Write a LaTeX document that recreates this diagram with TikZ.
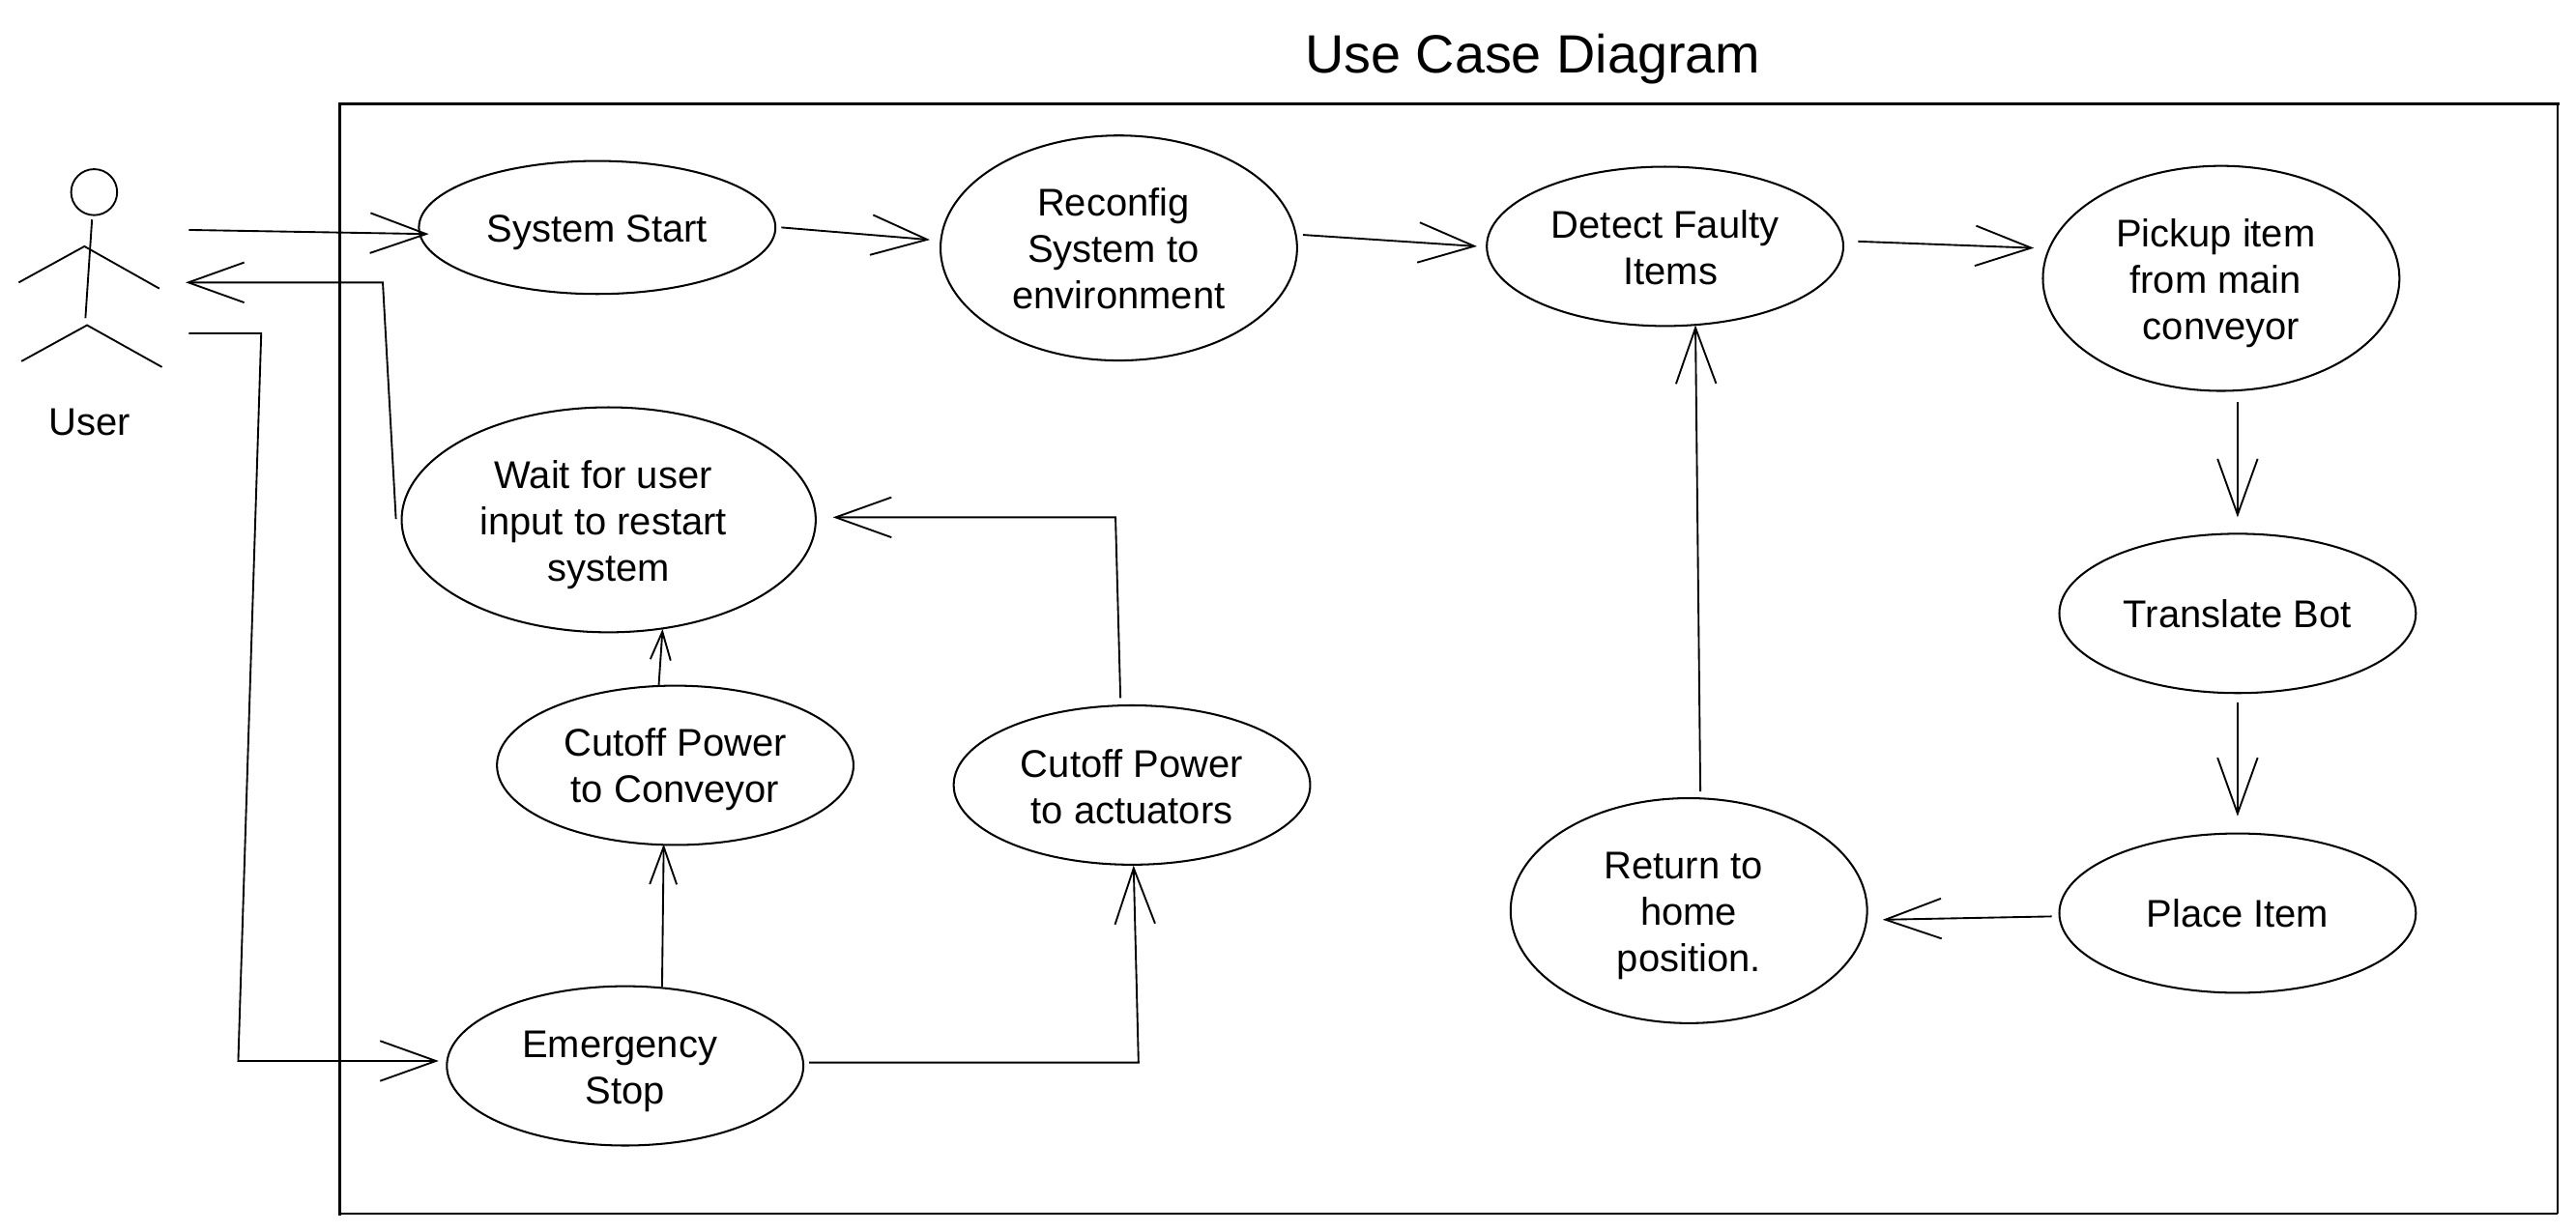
\documentclass[tikz,border=0pt]{standalone}
\usepackage{fontspec}
\setmainfont{Liberation Sans}
\usetikzlibrary{positioning, arrows.meta, shapes.geometric}
\newcommand{\drop}[1]{\rule{0pt}{#1}}
\newcommand{\pad}{\hspace*{3.3pt}}
\tikzset{
	every usecase/.style={ellipse, draw, line width=0.6pt, align=center, font=\fontsize{11.75pt}{14.1pt}\selectfont, inner sep=0pt, minimum width=108.5pt, minimum height=48.5pt},
	big usecase/.style={every usecase, minimum height=68.5pt},
	flow/.style={-{Straight Barb[length=17pt,width=12.2pt,line width=0.55pt]}, line width=0.55pt},
	short flow/.style={-{Straight Barb[length=#1pt,width=0.72*#1pt,line width=0.55pt]}, line width=0.55pt}
}
\begin{document}
\begin{tikzpicture}[x=0.5pt, y=-0.5pt, line width=0.55pt]
\useasboundingbox (0,0) rectangle (1568,750);

\node[font=\fontsize{16.4pt}{20pt}\selectfont] (title) at (933,36) {Use Case Diagram};
\coordinate (boxa) at (207,63);
\coordinate (boxb) at (1557,63);
\coordinate (boxc) at (1557,739);
\coordinate (boxd) at (207,739);
\draw[line width=0.6pt] (boxb) -- (boxc);
\draw[line width=0.9pt, line cap=rect] (boxb) -- (boxa) -- (boxd);
\draw[line width=0.7pt] (boxd) -- (boxc);

% actor
\node[circle, draw, minimum size=14pt, inner sep=0pt] (head) at (57.3,117) {};
\coordinate (spinetop) at (56,133.7);
\coordinate (spineend) at (52,193.7);
\coordinate (neck) at (51.4,150);
\coordinate (hip) at (53,198);
\draw (spinetop) -- (spineend);
\draw (11.4,172) -- (neck) -- (97,175.7);
\draw (13,220) -- (hip) -- (98.6,223.5);
\node[font=\fontsize{11.75pt}{14pt}\selectfont] (user) at (54.5,257) {User};

% use cases
\node[every usecase, minimum height=40.5pt] (start) at (363.5,138.5) {\drop{11.5pt}System Start};
\node[big usecase] (reconfig) at (681,151) {\drop{9pt}Reconfig\pad\\System to\pad\pad\\environment};
\node[every usecase] (detect) at (1013.5,150) {\drop{9.5pt}Detect Faulty\\\pad Items};
\node[big usecase] (pickup) at (1352,169.5) {\drop{11.5pt}Pickup item\pad\\from main\pad\pad\\conveyor};
\node[every usecase] (translate) at (1362,373.5) {Translate Bot};
\node[every usecase] (place) at (1362,556) {Place Item};
\node[big usecase] (home) at (1028,554.5) {\drop{11.5pt}Return to\pad\\home\\position.};
\node[big usecase, minimum width=126pt] (wait) at (370.5,316.5) {\drop{11.5pt}Wait for user\pad\\input to restart\pad\pad\\system};
\node[every usecase] (conveyor) at (411,466) {\drop{11pt}Cutoff Power\\to Conveyor};
\node[every usecase] (actuators) at (689,478) {\drop{9.5pt}Cutoff Power\\to actuators};
\node[every usecase] (estop) at (380.5,649) {\drop{11.5pt}Emergency\pad\\Stop};

% free ends
\coordinate (userin) at (113,172);
\coordinate (userout1) at (115,140);
\coordinate (userout2) at (115,203);

\draw[flow] (userout1) -- (261,142.5);
\draw[flow] (start.east) ++(3,0) -- (566,146);
\draw[flow] (reconfig.east) ++(3,-8) -- (899,150);
\draw[flow] (1131,147) -- (1238,151);
\draw[flow] (1362,245) -- (1362,315);
\draw[flow] (1362,428) -- (1362,497);
\draw[flow] (place.west) ++(-4,2) -- (1146,560);
\draw[flow] (1035,482) -- (1032,198);
\draw[flow] (241,316) -- (233,172) -- (userin);
\draw[flow] (userout2) -- (159,203) -- (145,646) -- (267,646);
\draw[short flow=11.4] (403,601) -- (404,514);
\draw[flow] (estop.east) ++(3,-2) -- (693,647) -- (690,527);
\draw[flow] (682,425) -- (679,315) -- (507,315);
\draw[short flow=8.6] (401,417) -- (403.3,383);
\end{tikzpicture}
\end{document}
